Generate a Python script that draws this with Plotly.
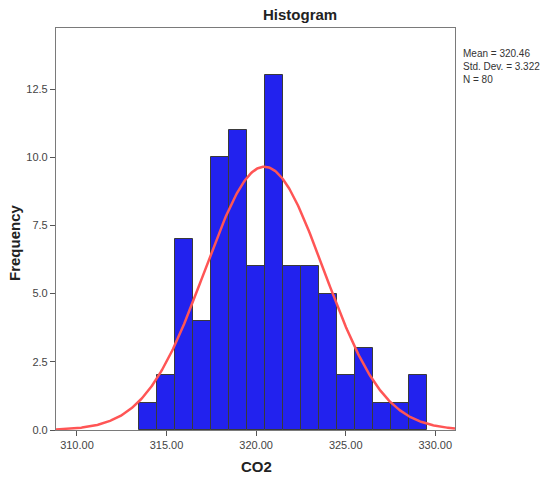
import numpy as np
import plotly.graph_objects as go

# Data
counts = [1, 2, 7, 4, 10, 11, 6, 13, 6, 6, 5, 2, 3, 1, 1, 2]
bin_start = 313.45
bin_width = 1.005
mean_val = 320.46
sd_val = 3.322
n_val = 80
x_ticks = [310, 315, 320, 325, 330]
y_ticks = [0, 2.5, 5, 7.5, 10, 12.5]

x_range = [308.83, 331.1]
y_range = [0, 14.74]

centers = [bin_start + bin_width * (i + 0.5) for i in range(len(counts))]

xs = np.linspace(x_range[0], x_range[1], 400)
ys = n_val * bin_width / (sd_val * np.sqrt(2 * np.pi)) * np.exp(-0.5 * ((xs - mean_val) / sd_val) ** 2)

fig = go.Figure()
fig.add_trace(go.Bar(
    x=centers, y=counts, width=[bin_width] * len(counts),
    marker=dict(color="rgb(34,34,238)", line=dict(color="#3a3a3a", width=1)),
    showlegend=False, hoverinfo="skip",
))
fig.add_trace(go.Scatter(
    x=xs, y=ys, mode="lines",
    line=dict(color="rgb(255,85,85)", width=2.5),
    showlegend=False, hoverinfo="skip", cliponaxis=True,
))

L, R, T, B = 56, 455, 28, 430
W, H = 548, 479
axis_font = dict(family="Liberation Sans, Arial, sans-serif", size=11, color="#444")
fig.update_layout(
    width=W, height=H,
    margin=dict(l=L, r=W - R, t=T, b=H - B, autoexpand=False),
    paper_bgcolor="white", plot_bgcolor="white",
    bargap=0,
    font=dict(family="Liberation Sans, Arial, sans-serif"),
    xaxis=dict(
        range=x_range, tickvals=x_ticks, ticktext=[f"{v:.2f}" for v in x_ticks],
        showgrid=False, zeroline=False, showline=True, mirror=True, automargin=False,
        linecolor="#7a7a7a", linewidth=1.2,
        ticks="outside", ticklen=5, tickcolor="#555", tickfont=axis_font,
    ),
    yaxis=dict(
        range=y_range, tickvals=y_ticks, ticktext=[f"{v:.1f}" for v in y_ticks],
        showgrid=False, zeroline=False, showline=True, mirror=True, automargin=False,
        linecolor="#7a7a7a", linewidth=1.2,
        ticks="outside", ticklen=5, tickcolor="#555", tickfont=axis_font,
    ),
    annotations=[
        dict(text="<b>Histogram</b>", xref="paper", yref="paper",
             x=(300 - L) / (R - L), y=1, yshift=14, xanchor="center", yanchor="middle",
             showarrow=False, font=dict(size=15, color="#222")),
        dict(text="<b>CO2</b>", xref="paper", yref="paper",
             x=(256 - L) / (R - L), y=0, yshift=-(466 - B), xanchor="center", yanchor="middle",
             showarrow=False, font=dict(size=15, color="#222")),
        dict(text="<b>Frequency</b>", xref="paper", yref="paper", textangle=-90,
             x=0, xshift=-(L - 15), y=(B - 243) / (B - T), xanchor="center", yanchor="middle",
             showarrow=False, font=dict(size=15, color="#222")),
        dict(text="Mean = 320.46<br>Std. Dev. = 3.322<br>N = 80",
             xref="paper", yref="paper", x=1, xshift=6, y=(B - 46) / (B - T),
             xanchor="left", yanchor="top", align="left", showarrow=False,
             font=dict(size=10, color="#333")),
    ],
)

fig.write_html("out.html")
